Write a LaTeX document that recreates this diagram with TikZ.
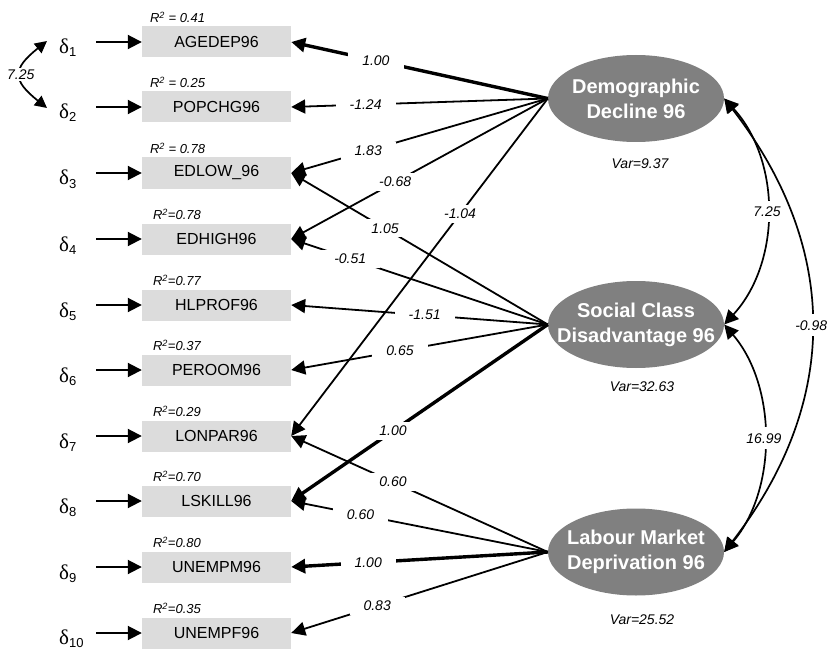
\documentclass[tikz,border=0pt]{standalone}
\usepackage{fontspec}
\setmainfont{Liberation Sans}
\newfontfamily\symfont{Liberation Serif}
\usetikzlibrary{arrows.meta,shapes.geometric}
\definecolor{boxgray}{RGB}{220,220,220}
\definecolor{latgray}{RGB}{128,128,128}
\newcommand{\dlt}[1]{{\symfont\fontsize{21}{21}\selectfont δ}\raisebox{-3pt}{\fontsize{13}{13}\selectfont #1}}
\begin{document}
\begin{tikzpicture}[x=1pt,y=-1pt,
  obs/.style={fill=boxgray, minimum width=149pt, minimum height=31pt, inner sep=0pt, font=\fontsize{16}{16}\selectfont},
  lat/.style={ellipse, fill=latgray, minimum width=176pt, minimum height=87pt, inner sep=0pt},
  lattext/.style={inner sep=0pt, text=white, align=center, font=\fontsize{20}{25}\selectfont\bfseries},
  err/.style={anchor=base west, inner sep=0pt},
  rtwo/.style={anchor=south west, inner sep=0pt, font=\fontsize{13}{13}\selectfont\itshape},
  coef/.style={fill=white, inner xsep=14pt, inner ysep=4pt, font=\fontsize{14}{14}\selectfont\itshape},
  varl/.style={inner sep=0pt, font=\fontsize{14}{14}\selectfont\itshape},
  tipr/.style={-{Triangle[length=14pt,width=14pt]}},
  ld/.style={tipr, line width=1.8pt},
  ldf/.style={tipr, line width=3.4pt},
  erra/.style={tipr, line width=1.9pt},
  cov/.style={{Triangle[length=14pt,width=14pt]}-{Triangle[length=14pt,width=14pt]}, line width=1.7pt},
  covs/.style={{Triangle[length=12pt,width=12pt]}-{Triangle[length=12pt,width=12pt]}, line width=1.7pt},
  ]
\useasboundingbox (0,0) rectangle (830,650);

% observed variables
\node[obs] (b1) at (216.5,42) {AGEDEP96};
\node[obs] (b2) at (216.5,107) {POPCHG96};
\node[obs] (b3) at (216.5,173) {EDLOW\_96};
\node[obs] (b4) at (216.5,239) {EDHIGH96};
\node[obs] (b5) at (216.5,305) {HLPROF96};
\node[obs] (b6) at (216.5,370) {PEROOM96};
\node[obs] (b7) at (216.5,436) {LONPAR96};
\node[obs] (b8) at (216.5,501) {LSKILL96};
\node[obs] (b9) at (216.5,567) {UNEMPM96};
\node[obs] (b10) at (216.5,633) {UNEMPF96};

% R2 labels
\node[rtwo] (r1) at ([xshift=8pt,yshift=3pt]b1.north west) {R\textsuperscript{2} = 0.41};
\node[rtwo] (r2) at ([xshift=8pt,yshift=3pt]b2.north west) {R\textsuperscript{2} = 0.25};
\node[rtwo] (r3) at ([xshift=8pt,yshift=3pt]b3.north west) {R\textsuperscript{2} = 0.78};
\node[rtwo] (r4) at ([xshift=11pt,yshift=3pt]b4.north west) {R\textsuperscript{2}=0.78};
\node[rtwo] (r5) at ([xshift=11pt,yshift=3pt]b5.north west) {R\textsuperscript{2}=0.77};
\node[rtwo] (r6) at ([xshift=11pt,yshift=3pt]b6.north west) {R\textsuperscript{2}=0.37};
\node[rtwo] (r7) at ([xshift=11pt,yshift=3pt]b7.north west) {R\textsuperscript{2}=0.29};
\node[rtwo] (r8) at ([xshift=11pt,yshift=3pt]b8.north west) {R\textsuperscript{2}=0.70};
\node[rtwo] (r9) at ([xshift=11pt,yshift=3pt]b9.north west) {R\textsuperscript{2}=0.80};
\node[rtwo] (r10) at ([xshift=11pt,yshift=3pt]b10.north west) {R\textsuperscript{2}=0.35};

% error terms
\node[err] (d1) at (59,54) {\dlt{1}};
\node[err] (d2) at (59,119) {\dlt{2}};
\node[err] (d3) at (59,185) {\dlt{3}};
\node[err] (d4) at (59,251) {\dlt{4}};
\node[err] (d5) at (59,317) {\dlt{5}};
\node[err] (d6) at (59,382) {\dlt{6}};
\node[err] (d7) at (59,448) {\dlt{7}};
\node[err] (d8) at (59,513) {\dlt{8}};
\node[err] (d9) at (59,579) {\dlt{9}};
\node[err] (d10) at (59,644) {\dlt{10}};

\coordinate (e1) at (96,42);
\coordinate (e2) at (96,107);
\coordinate (e3) at (96,173);
\coordinate (e4) at (96,239);
\coordinate (e5) at (96,305);
\coordinate (e6) at (96,370);
\coordinate (e7) at (96,436);
\coordinate (e8) at (96,501);
\coordinate (e9) at (96,567);
\coordinate (e10) at (96,633);
\foreach \i in {1,...,10} {\draw[erra] (e\i) -- (b\i);}

\coordinate (c1) at (47,41);
\coordinate (c2) at (47,108);
\draw[covs] (c1) .. controls +(-35,28) and +(-35,-28) .. node[fill=white, inner sep=2pt, font=\fontsize{14}{14}\selectfont\itshape] (cl) {7.25} (c2);

% latent variables
\node[lat] (DD) at (636,98.5) {};
\node[lat] (SC) at (636,324.5) {};
\node[lat] (LM) at (636,552) {};
\node[lattext] (t1) at (DD) {Demographic\\Decline 96};
\node[lattext] (t2) at (SC) {Social Class\\Disadvantage 96};
\node[lattext] (t3) at (LM) {Labour Market\\Deprivation 96};

\node[varl] (v1) at (640,164) {Var=9.37};
\node[varl] (v2) at (642,387) {Var=32.63};
\node[varl] (v3) at (642,620) {Var=25.52};

% loadings
\draw[ldf] (DD.west) -- node[coef, pos=0.67] (l1) {1.00} (b1.east);
\draw[ld] (DD.west) -- node[coef, pos=0.71] (l2) {-1.24} (b2.east);
\draw[ld] (DD.west) -- node[coef, pos=0.70] (l3) {1.83} (b3.east);
\draw[ld] (DD.west) -- node[coef, pos=0.595] (l4) {-0.68} (b4.east);
\draw[ld] (DD.west) -- node[coef, pos=0.342] (l5) {-1.04} (b7.east);
\draw[ld] (SC.west) -- node[coef, pos=0.634] (l6) {1.05} (b3.east);
\draw[ld] (SC.west) -- node[coef, pos=0.77] (l7) {-0.51} (b4.east);
\draw[ld] (SC.west) -- node[coef, pos=0.48] (l8) {-1.51} (b5.east);
\draw[ld] (SC.west) -- node[coef, pos=0.576] (l9) {0.65} (b6.east);
\draw[ldf] (SC.west) -- node[coef, pos=0.603] (l10) {1.00} (b8.east);
\draw[ld] (LM.west) -- node[coef, pos=0.603] (l11) {0.60} (b7.east);
\draw[ld] (LM.west) -- node[coef, pos=0.73] (l12) {0.60} (b8.east);
\draw[ldf] (LM.west) -- node[coef, pos=0.70] (l13) {1.00} (b9.east);
\draw[ld] (LM.west) -- node[coef, pos=0.665] (l14) {0.83} (b10.east);

% covariances
\draw[cov] (DD.east) .. controls +(57,62) and +(57,-62) .. node[coef, inner xsep=3pt, inner ysep=6pt] (k1) {7.25} (SC.east);
\draw[cov] (SC.east) .. controls +(53,62) and +(53,-62) .. node[coef, inner xsep=3pt, inner ysep=6pt] (k2) {16.99} (LM.east);
\draw[cov] (DD.east) .. controls +(116,150) and +(116,-150) .. node[coef, inner xsep=3pt, inner ysep=6pt] (k3) {-0.98} (LM.east);
\end{tikzpicture}
\end{document}
